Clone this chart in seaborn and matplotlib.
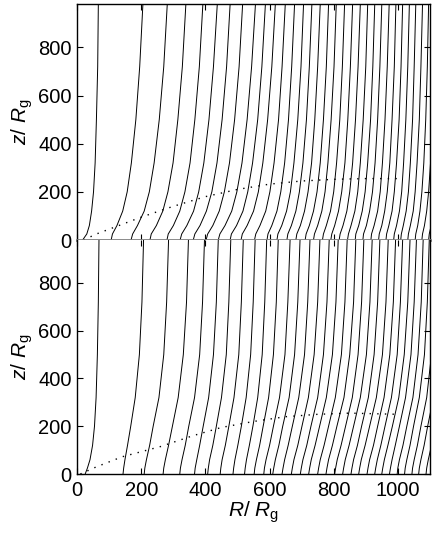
import numpy as np
import pandas as pd
import seaborn as sns
import matplotlib
matplotlib.use("Agg")
import matplotlib.pyplot as plt

# heights (z / Rg) at which each field line is sampled
z_levels = [0, 25, 60, 120, 200, 320, 500, 720, 980]

# top panel: R of each field line at the z levels above
lines_top = [
    [17, 30, 38, 45, 51, 56, 60, 64, 66],
    [106, 110, 124, 142, 156, 169, 183, 195, 205],
    [168, 173, 188, 209, 225, 240, 256, 270, 281],
    [227, 231, 247, 267, 283, 299, 314, 328, 339],
    [280, 284, 300, 320, 336, 352, 367, 381, 392],
    [321, 326, 342, 363, 379, 395, 411, 425, 437],
    [362, 367, 383, 403, 420, 436, 452, 466, 477],
    [402, 407, 423, 443, 459, 475, 491, 505, 516],
    [440, 445, 461, 482, 498, 514, 530, 544, 556],
    [477, 481, 497, 517, 532, 547, 563, 576, 587],
    [511, 515, 530, 550, 565, 579, 594, 607, 618],
    [553, 557, 570, 588, 601, 614, 628, 639, 649],
    [592, 595, 607, 623, 635, 647, 659, 669, 678],
    [623, 626, 638, 653, 665, 676, 688, 698, 706],
    [654, 657, 668, 682, 693, 704, 715, 724, 732],
    [682, 685, 696, 709, 720, 731, 741, 750, 758],
    [711, 714, 724, 737, 748, 758, 768, 777, 784],
    [737, 740, 750, 763, 773, 782, 792, 801, 808],
    [765, 768, 777, 790, 800, 809, 819, 827, 834],
    [791, 794, 803, 815, 825, 835, 844, 852, 859],
    [817, 820, 829, 841, 850, 859, 868, 876, 883],
    [843, 846, 854, 866, 875, 883, 892, 900, 906],
    [867, 869, 878, 889, 898, 906, 915, 922, 928],
    [891, 893, 902, 912, 921, 929, 937, 944, 950],
    [916, 918, 926, 937, 945, 952, 960, 967, 973],
    [940, 942, 950, 959, 967, 975, 982, 989, 994],
    [963, 965, 972, 982, 989, 996, 1004, 1010, 1015],
    [987, 989, 996, 1005, 1012, 1018, 1025, 1031, 1036],
    [1009, 1011, 1017, 1026, 1033, 1039, 1046, 1051, 1056],
    [1031, 1033, 1039, 1048, 1054, 1060, 1067, 1072, 1077],
    [1054, 1056, 1062, 1069, 1075, 1081, 1087, 1092, 1096],
    [1075, 1077, 1083, 1090, 1096, 1102, 1108, 1113, 1117],
    [1096, 1098, 1104, 1111, 1117, 1123, 1129, 1134, 1138],
]

# bottom panel
lines_bot = [
    [25, 32, 40, 48, 54, 59, 63, 66, 68],
    [143, 145, 149, 157, 167, 181, 194, 202, 207],
    [209, 211, 216, 226, 237, 255, 270, 279, 285],
    [268, 270, 275, 285, 297, 315, 331, 341, 347],
    [320, 322, 327, 337, 348, 366, 382, 391, 397],
    [366, 368, 373, 382, 393, 410, 425, 434, 440],
    [407, 409, 413, 423, 434, 450, 465, 473, 479],
    [446, 448, 452, 462, 473, 489, 504, 512, 518],
    [486, 488, 492, 501, 512, 527, 541, 549, 555],
    [522, 524, 528, 537, 548, 563, 577, 585, 591],
    [552, 554, 559, 569, 580, 597, 612, 621, 627],
    [582, 584, 589, 600, 612, 631, 648, 657, 664],
    [610, 613, 618, 629, 641, 661, 678, 688, 695],
    [639, 642, 647, 658, 671, 691, 709, 719, 726],
    [668, 671, 676, 688, 701, 721, 739, 750, 757],
    [696, 699, 704, 716, 729, 750, 768, 779, 786],
    [722, 725, 730, 742, 756, 777, 796, 807, 814],
    [750, 753, 758, 770, 784, 805, 824, 835, 842],
    [776, 779, 784, 796, 810, 832, 850, 862, 869],
    [803, 806, 811, 823, 837, 858, 876, 887, 894],
    [828, 831, 836, 848, 862, 883, 902, 913, 920],
    [854, 857, 862, 874, 887, 908, 926, 937, 944],
    [878, 881, 886, 898, 912, 933, 952, 963, 970],
    [904, 907, 912, 924, 937, 957, 975, 986, 993],
    [928, 931, 936, 947, 960, 980, 998, 1008, 1015],
    [950, 953, 958, 969, 983, 1003, 1020, 1031, 1038],
    [974, 977, 982, 992, 1005, 1024, 1041, 1051, 1058],
    [998, 1000, 1005, 1016, 1028, 1047, 1063, 1073, 1079],
    [1021, 1023, 1028, 1038, 1049, 1067, 1083, 1092, 1098],
    [1044, 1046, 1051, 1061, 1072, 1090, 1105, 1114, 1120],
    [1065, 1067, 1072, 1082, 1093, 1111, 1126, 1135, 1141],
    [1088, 1090, 1095, 1105, 1116, 1134, 1149, 1158, 1164],
]

# dotted curves
dot_R_top = [20, 60, 110, 200, 300, 400, 500, 600, 700, 800, 900, 1000]
dot_z_top = [0, 25, 50, 95, 140, 180, 210, 232, 245, 252, 255, 255]
dot_R_bot = [10, 60, 140, 260, 360, 450, 550, 650, 750, 850, 1000]
dot_z_bot = [0, 30, 72, 115, 160, 195, 220, 240, 250, 255, 250]


def to_frame(lines):
    rows = []
    for i, rr in enumerate(lines):
        for r, z in zip(rr, z_levels):
            rows.append((i, r, z))
    return pd.DataFrame(rows, columns=["line", "R", "z"])


sns.set_style("ticks")
plt.rcParams["font.family"] = ["Liberation Sans", "DejaVu Sans"]
plt.rcParams["mathtext.fontset"] = "custom"
plt.rcParams["mathtext.it"] = "Liberation Sans:italic"
plt.rcParams["mathtext.rm"] = "Liberation Sans"
plt.rcParams["xtick.direction"] = "in"
plt.rcParams["ytick.direction"] = "in"
for key in ["text.color", "axes.labelcolor", "xtick.color", "ytick.color",
            "xtick.labelcolor", "ytick.labelcolor"]:
    plt.rcParams[key] = "black"

fig = plt.figure(figsize=(4.36, 5.35), dpi=100)
ax1 = fig.add_axes([0.177, 0.5514, 0.809, 0.4411])
ax2 = fig.add_axes([0.177, 0.114, 0.809, 0.4374])

panels = [(ax1, lines_top, dot_R_top, dot_z_top), (ax2, lines_bot, dot_R_bot, dot_z_bot)]
for ax, lines, dR, dz in panels:
    df = to_frame(lines)
    sns.lineplot(data=df, x="R", y="z", units="line", estimator=None, sort=False,
                 color="black", lw=0.7, ax=ax)
    sns.lineplot(x=dR, y=dz, sort=False, color="black", lw=1.0,
                 linestyle=(0, (1, 4.5)), ax=ax)
    ax.set_xlim(0, 1100)
    ax.set_ylim(0, 980)
    ax.set_xticks([0, 200, 400, 600, 800, 1000])
    ax.set_yticks([0, 200, 400, 600, 800])
    ax.tick_params(which="both", top=True, right=True, length=4, width=0.8,
                   labelsize=14.5, color="black")
    ax.tick_params(axis="y", pad=4)
    ax.tick_params(axis="x", pad=5)
    for s in ax.spines.values():
        s.set_linewidth(1.0)
        s.set_color("black")
    ax.set_ylabel(r"$z$/ $R_{\mathrm{g}}$", fontsize=15, labelpad=2)

ax1.set_xlabel("")
ax1.tick_params(labelbottom=False)
ax1.spines["bottom"].set_color("#808080")
ax1.spines["bottom"].set_linewidth(2.0)
ax1.spines["bottom"].set_zorder(5)
ax2.spines["top"].set_visible(False)
ax2.set_xlabel(r"$R$/ $R_{\mathrm{g}}$", fontsize=15, labelpad=0)

fig.savefig("out.png", dpi=100)
